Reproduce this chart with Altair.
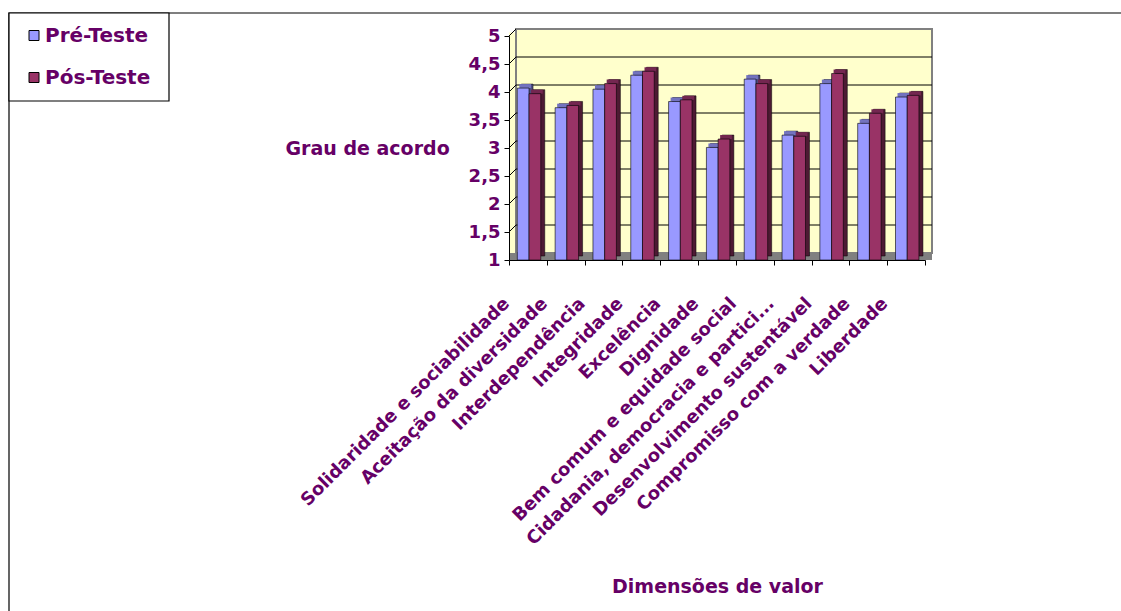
import altair as alt
import pandas as pd

categories = [
    "Solidaridade e sociabilidade",
    "Aceitação da diversidade",
    "Interdependência",
    "Integridade",
    "Excelência",
    "Dignidade",
    "Bem comum e equidade social",
    "Cidadania, democracia e partici...",
    "Desenvolvimento sustentável",
    "Compromisso com a verdade",
    "Liberdade",
]
pre = [4.07, 3.72, 4.05, 4.30, 3.83, 3.01, 4.23, 3.23, 4.15, 3.44, 3.91]
pos = [3.97, 3.76, 4.15, 4.37, 3.86, 3.16, 4.15, 3.21, 4.33, 3.62, 3.94]
series = ["Pré-Teste", "Pós-Teste"]
y_ticks = [1, 1.5, 2, 2.5, 3, 3.5, 4, 4.5, 5]

n = len(categories)
rows = []
for i, c in enumerate(categories):
    rows.append({"cat": c, "idx": i, "s": series[0], "v": pre[i]})
    rows.append({"cat": c, "idx": i, "s": series[1], "v": pos[i]})
bars = pd.DataFrame(rows)
labels_df = pd.DataFrame({"cat": categories, "idx": list(range(n))})
grid_df = pd.DataFrame({"t": y_ticks})
one = pd.DataFrame({"k": [0]})

PURPLE = "#660066"
FONT = "DejaVu Sans"
C_PRE, C_POS = "#9999FF", "#993366"
PRE_TOP, PRE_SIDE = "#7373BF", "#4D4D80"
POS_TOP, POS_SIDE = "#732650", "#4D1A33"
WALL = "#FFFFCC"

xs = alt.Scale(domain=[0, n], nice=False, zero=False)
ys = alt.Scale(domain=[1, 5], nice=False, zero=False)
GAP, BW = 0.22, 0.31

x_axis = alt.Axis(
    values=list(range(n + 1)), labels=False, grid=False, domainColor="black",
    tickColor="black", tickSize=5, zindex=1, title="Dimensões de valor", titleFont=FONT,
    titleFontSize=19, titleFontWeight="bold", titleColor=PURPLE,
    titleX=208, titleY=326, titleAlign="center", titleBaseline="middle",
)
y_axis = alt.Axis(
    values=y_ticks, labelExpr="replace(toString(datum.value), '.', ',')", grid=False,
    domainColor="black", tickColor="black", tickSize=5, labelPadding=4, zindex=1,
    labelFont=FONT, labelFontSize=18, labelFontWeight="bold", labelColor=PURPLE,
    title="Grau de acordo", titleAngle=0, titleX=-224, titleY=112, titleAlign="left",
    titleBaseline="middle", titleFont=FONT, titleFontSize=19, titleFontWeight="bold",
    titleColor=PURPLE,
)


def X(**kw):
    return alt.X(scale=xs, axis=x_axis, **kw)


def Y(**kw):
    return alt.Y(scale=ys, axis=y_axis, **kw)


base_bars = alt.Chart(bars).transform_calculate(
    x0=f"datum.idx + {GAP} + (datum.s == '{series[1]}' ? {BW} : 0)"
).transform_calculate(x1=f"datum.x0 + {BW}")

# decorations -------------------------------------------------------------
frame = alt.Chart(one).mark_rect(fill="white", fillOpacity=0, stroke="#000", strokeWidth=1.2).encode(
    x=alt.value(-500), x2=alt.value(700), y=alt.value(-23), y2=alt.value(700)
)
legend_box = alt.Chart(one).mark_rect(fill="white", stroke="#000", strokeWidth=1.2).encode(
    x=alt.value(-500), x2=alt.value(-340), y=alt.value(-23), y2=alt.value(65)
)
side_wall = alt.Chart(one).mark_rect(fill=WALL, x2Offset=7, yOffset=-3.5, y2Offset=-3.5).encode(
    x=X(datum=0, type="quantitative"), x2=alt.X2(datum=0),
    y=Y(datum=5, type="quantitative"), y2=alt.Y2(datum=1),
)
back_wall = alt.Chart(one).mark_rect(
    fill=WALL, stroke="#808080", strokeWidth=2, xOffset=7, x2Offset=7, yOffset=-7, y2Offset=-7
).encode(
    x=X(datum=0, type="quantitative"), x2=alt.X2(datum=n),
    y=Y(datum=5, type="quantitative"), y2=alt.Y2(datum=1),
)
grid = alt.Chart(grid_df).transform_filter("datum.t > 1 && datum.t < 5").mark_rule(
    color="black", strokeWidth=1, xOffset=7, x2Offset=7, yOffset=-7
).encode(
    x=X(datum=0, type="quantitative"), x2=alt.X2(datum=n),
    y=Y(field="t", type="quantitative"),
)
diag = alt.Chart(grid_df).transform_filter("datum.t > 1").mark_rule(
    color="black", strokeWidth=1, x2Offset=7, y2Offset=-7
).encode(
    x=X(datum=0, type="quantitative"), x2=alt.X2(datum=0),
    y=Y(field="t", type="quantitative"), y2=alt.Y2("t:Q"),
)
floor = alt.Chart(one).mark_rect(fill="#808080", x2Offset=7, yOffset=-7).encode(
    x=X(datum=0, type="quantitative"), x2=alt.X2(datum=n),
    y=Y(datum=1, type="quantitative"), y2=alt.Y2(datum=1),
)


# 3D bar faces ------------------------------------------------------------
def depth(s, color):
    return base_bars.transform_filter(f"datum.s == '{s}'").mark_rect(
        fill=color, stroke="black", strokeWidth=0.5, xOffset=4, x2Offset=4, yOffset=-4, y2Offset=-4
    ).encode(
        x=X(field="x0", type="quantitative"), x2="x1:Q",
        y=Y(field="v", type="quantitative"), y2=alt.Y2(datum=1),
    )


def top(s, color):
    return base_bars.transform_filter(f"datum.s == '{s}'").mark_rect(
        fill=color, xOffset=2, x2Offset=2, yOffset=-4, y2Offset=0
    ).encode(
        x=X(field="x0", type="quantitative"), x2="x1:Q",
        y=Y(field="v", type="quantitative"), y2="v:Q",
    )


front = base_bars.mark_rect(stroke="black", strokeWidth=0.6).encode(
    x=X(field="x0", type="quantitative"), x2="x1:Q",
    y=Y(field="v", type="quantitative"), y2=alt.Y2(datum=1),
    color=alt.Color(
        "s:N",
        scale=alt.Scale(domain=series, range=[C_PRE, C_POS]),
        legend=alt.Legend(
            title=None, orient="none", legendX=-485, legendY=-10.5, padding=0,
            symbolType="square", symbolSize=100, symbolStrokeColor="black",
            symbolStrokeWidth=1, symbolOpacity=1, labelFont=FONT, labelFontSize=20,
            labelFontWeight="bold", labelColor=PURPLE, labelOffset=1, rowPadding=22,
        ),
    ),
)

labels = alt.Chart(labels_df).transform_calculate(lx="datum.idx + 0.5").mark_text(
    angle=315, align="right", baseline="middle", font=FONT, fontSize=18,
    fontWeight="bold", color=PURPLE, xOffset=-21, yOffset=41,
).encode(
    x=X(field="lx", type="quantitative"),
    y=Y(datum=1, type="quantitative"),
    text="cat:N",
)

chart = alt.layer(
    frame, legend_box, side_wall, back_wall, grid, diag, floor,
    depth(series[0], PRE_SIDE), top(series[0], PRE_TOP),
    depth(series[1], POS_SIDE), top(series[1], POS_TOP),
    front, labels,
).properties(
    width=416, height=224,
    padding={"left": 509, "top": 36, "right": 196, "bottom": 351},
    autosize=alt.AutoSizeParams(type="none"),
).configure_view(stroke="transparent").configure(background="white")

chart.save("out.html", embed_options={"renderer": "svg", "actions": False})
